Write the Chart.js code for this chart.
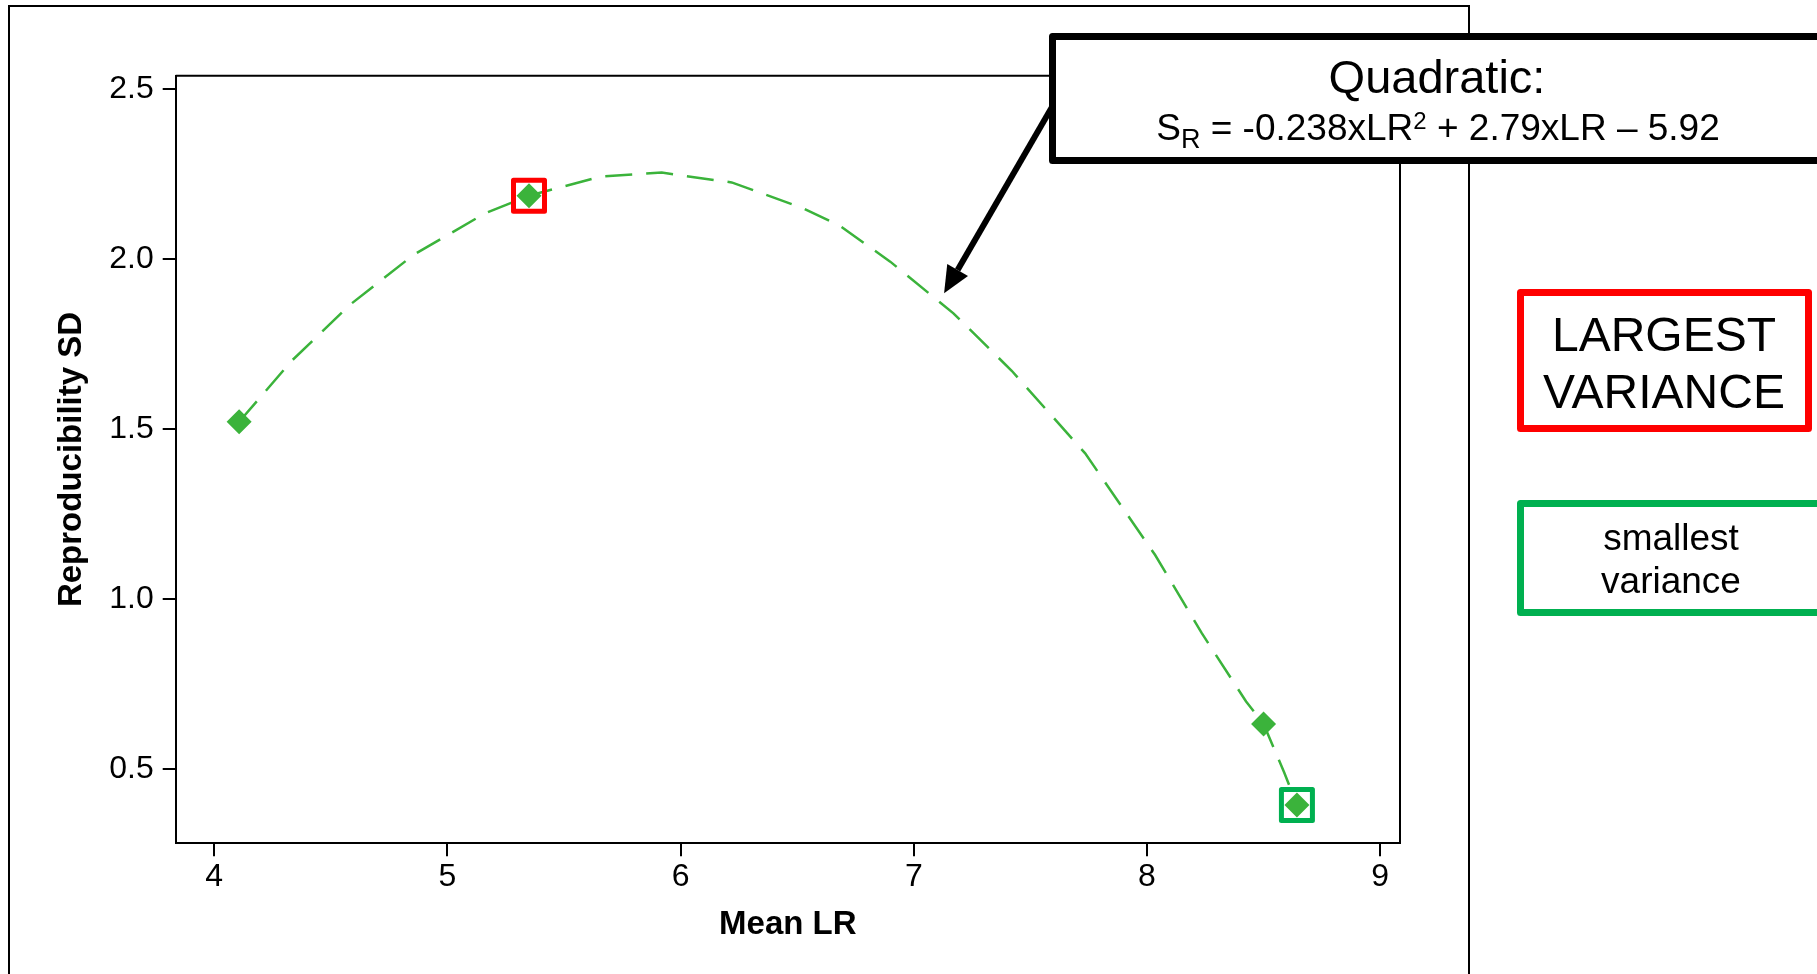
<!DOCTYPE html>
<html>
<head>
<meta charset="utf-8">
<title>Reproducibility SD vs Mean LR</title>
<script src="https://cdn.jsdelivr.net/npm/chart.js@4.4.1/dist/chart.umd.min.js"></script>
<style>
  html, body { margin: 0; padding: 0; background: #fff; overflow: hidden; }
  #wrap { position: relative; width: 1817px; height: 974px; }
</style>
</head>
<body>
<div id="wrap"><canvas id="chart"></canvas></div>
<script>
// measured points
const meanLR = [4.107, 5.350, 8.500, 8.643];
const reproSD = [1.522, 2.187, 0.633, 0.395];

// fitted quadratic
const fitLR = [4.107, 4.332, 4.582, 4.855, 5.161, 5.350, 5.655, 5.919, 6.219, 6.526, 6.684,
               6.899, 7.170, 7.420, 7.735, 8.035, 8.235, 8.425, 8.500, 8.588, 8.643];
const fitSD = [1.522, 1.701, 1.866, 2.013, 2.135, 2.187, 2.243, 2.255, 2.226, 2.150, 2.098,
               1.993, 1.841, 1.672, 1.429, 1.130, 0.900, 0.699, 0.633, 0.491, 0.395];

// axis ticks
const xTicks = [4, 5, 6, 7, 8, 9];
const yTicks = [0.5, 1.0, 1.5, 2.0, 2.5];

// which points get a box, and where the arrow points
const highlightIdx = [1, 3];
const highlightColors = ['#ff0000', '#00b050'];
const arrowTip = [7.13, 1.90];

const FONT = "'Liberation Sans', Arial, Helvetica, sans-serif";
const GREEN = '#3bb33b';

// 画框、箭头和文字框
const decorPlugin = {
  id: 'decor',
  beforeDraw(chart) {
    const ctx = chart.ctx;
    ctx.save();
    ctx.fillStyle = '#fff';
    ctx.fillRect(0, 0, chart.width, chart.height);
    ctx.strokeStyle = '#000';
    ctx.lineWidth = 2;
    ctx.strokeRect(9, 6, 1460, 1100);
    ctx.restore();
  },
  afterDatasetsDraw(chart) {
    const ctx = chart.ctx;
    const a = chart.chartArea;
    ctx.save();
    // top and right edges of the plot box
    ctx.strokeStyle = '#000';
    ctx.lineWidth = 2;
    ctx.beginPath();
    ctx.moveTo(a.left, a.top);
    ctx.lineTo(a.right, a.top);
    ctx.lineTo(a.right, a.bottom);
    ctx.stroke();

    // squares round the largest / smallest points
    const meta = chart.getDatasetMeta(0);
    ctx.lineWidth = 5;
    ctx.lineJoin = 'round';
    highlightIdx.forEach((idx, k) => {
      const el = meta.data[idx];
      ctx.strokeStyle = highlightColors[k];
      ctx.strokeRect(el.x - 15.5, el.y - 15.5, 31, 31);
    });
    ctx.restore();
  },
  afterDraw(chart) {
    const ctx = chart.ctx;
    ctx.save();

    // arrow
    const tipX = chart.scales.x.getPixelForValue(arrowTip[0]);
    const tipY = chart.scales.y.getPixelForValue(arrowTip[1]);
    const sx = 1052, sy = 107;
    const ang = Math.atan2(tipY - sy, tipX - sx);
    const headLen = 27, headW = 12;
    const bx = tipX - headLen * Math.cos(ang);
    const by = tipY - headLen * Math.sin(ang);
    ctx.strokeStyle = '#000';
    ctx.fillStyle = '#000';
    ctx.lineWidth = 6;
    ctx.beginPath();
    ctx.moveTo(sx, sy);
    ctx.lineTo(bx, by);
    ctx.stroke();
    ctx.beginPath();
    ctx.moveTo(tipX, tipY);
    ctx.lineTo(bx + headW * Math.sin(ang), by - headW * Math.cos(ang));
    ctx.lineTo(bx - headW * Math.sin(ang), by + headW * Math.cos(ang));
    ctx.closePath();
    ctx.fill();

    ctx.lineJoin = 'round';
    ctx.lineWidth = 7;

    // equation box
    ctx.fillStyle = '#fff';
    ctx.fillRect(1049, 33, 800, 131);
    ctx.strokeStyle = '#000';
    ctx.strokeRect(1052.5, 36.5, 800, 124);
    ctx.fillStyle = '#000';
    ctx.textAlign = 'center';
    ctx.textBaseline = 'alphabetic';
    ctx.font = '47px ' + FONT;
    ctx.fillText('Quadratic:', 1437, 93);

    const parts = [
      { t: 'S', size: 37, dy: 0 },
      { t: 'R', size: 27, dy: 8 },
      { t: ' = -0.238xLR', size: 37, dy: 0 },
      { t: '2', size: 24, dy: -11 },
      { t: ' + 2.79xLR \u2013 5.92', size: 37, dy: 0 }
    ];
    let total = 0;
    parts.forEach(p => {
      ctx.font = p.size + 'px ' + FONT;
      p.w = ctx.measureText(p.t).width;
      total += p.w;
    });
    let x = 1438 - total / 2;
    ctx.textAlign = 'left';
    parts.forEach(p => {
      ctx.font = p.size + 'px ' + FONT;
      ctx.fillText(p.t, x, 140 + p.dy);
      x += p.w;
    });

    // LARGEST VARIANCE
    ctx.fillStyle = '#fff';
    ctx.fillRect(1517, 289, 295, 143);
    ctx.strokeStyle = '#ff0000';
    ctx.strokeRect(1520.5, 292.5, 288, 136);
    ctx.fillStyle = '#000';
    ctx.textAlign = 'center';
    ctx.font = '48px ' + FONT;
    ctx.fillText('LARGEST', 1664, 351);
    ctx.fillText('VARIANCE', 1664, 408);

    // smallest variance
    ctx.fillStyle = '#fff';
    ctx.fillRect(1517, 500, 400, 116);
    ctx.strokeStyle = '#00b050';
    ctx.strokeRect(1520.5, 503.5, 400, 109);
    ctx.fillStyle = '#000';
    ctx.font = '37px ' + FONT;
    ctx.fillText('smallest', 1671, 550);
    ctx.fillText('variance', 1671, 593);

    ctx.restore();
  }
};

const ctx = document.getElementById('chart').getContext('2d');
new Chart(ctx, {
  type: 'scatter',
  data: {
    datasets: [
      {
        label: 'Reproducibility SD',
        data: meanLR.map((v, i) => ({ x: v, y: reproSD[i] })),
        pointStyle: 'rectRot',
        pointRadius: 12.5,
        pointHoverRadius: 12.5,
        backgroundColor: GREEN,
        borderWidth: 0,
        showLine: false,
        order: 0
      },
      {
        label: 'Quadratic fit',
        data: fitLR.map((v, i) => ({ x: v, y: fitSD[i] })),
        showLine: true,
        borderColor: GREEN,
        borderWidth: 2.5,
        borderDash: [27, 14],
        pointRadius: 0,
        tension: 0,
        fill: false,
        order: 1
      }
    ]
  },
  options: {
    responsive: true,
    maintainAspectRatio: false,
    animation: false,
    layout: { padding: { left: 0, top: 75.7, right: 417, bottom: 0 } },
    plugins: {
      legend: { display: false },
      tooltip: { enabled: false }
    },
    scales: {
      x: {
        type: 'linear',
        min: 3.835,
        max: 9.085,
        afterBuildTicks: scale => { scale.ticks = xTicks.map(v => ({ value: v })); },
        afterFit: scale => { scale.height = 130.7; },
        ticks: {
          color: '#000',
          font: { family: FONT, size: 32 },
          padding: 2,
          maxRotation: 0,
          callback: v => String(v)
        },
        grid: { display: true, drawOnChartArea: false, drawTicks: true, tickLength: 13, color: '#000', lineWidth: 2 },
        border: { display: true, color: '#000', width: 2 },
        title: {
          display: true,
          text: 'Mean LR',
          color: '#000',
          font: { family: FONT, size: 33, weight: 'bold' },
          padding: { top: 0, bottom: 29 }
        }
      },
      y: {
        type: 'linear',
        min: 0.282,
        max: 2.540,
        afterBuildTicks: scale => { scale.ticks = yTicks.map(v => ({ value: v })); },
        afterFit: scale => { scale.width = 175.7; },
        ticks: {
          color: '#000',
          font: { family: FONT, size: 32 },
          padding: 9,
          callback: v => Number(v).toFixed(1)
        },
        grid: { display: true, drawOnChartArea: false, drawTicks: true, tickLength: 13, color: '#000', lineWidth: 2 },
        border: { display: true, color: '#000', width: 2 },
        title: {
          display: true,
          text: 'Reproducibility SD',
          color: '#000',
          font: { family: FONT, size: 33, weight: 'bold' },
          padding: { top: 52, bottom: 0 }
        }
      }
    }
  },
  plugins: [decorPlugin]
});
</script>
</body>
</html>
